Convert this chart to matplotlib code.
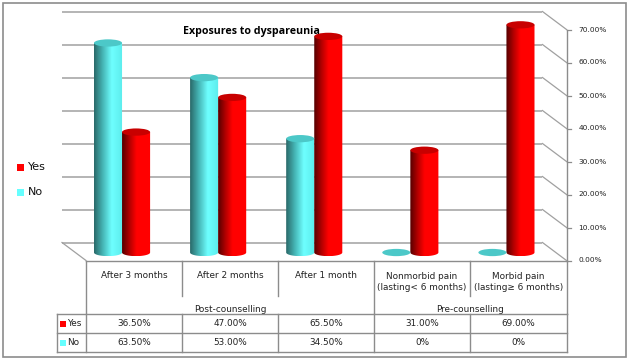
import numpy as np
import matplotlib
matplotlib.use('Agg')
import matplotlib.pyplot as plt
from matplotlib.colors import LinearSegmentedColormap
from matplotlib.patches import Ellipse, PathPatch, Rectangle
from matplotlib.path import Path

# data
categories = ['After 3 months', 'After 2 months', 'After 1 month',
              'Nonmorbid pain\n(lasting< 6 months)', 'Morbid pain\n(lasting≥ 6 months)']
groups = ['Post-counselling', 'Pre-counselling']
yes_values = [36.5, 47.0, 65.5, 31.0, 69.0]
no_values = [63.5, 53.0, 34.5, 0, 0]
yes_labels = ['36.50%', '47.00%', '65.50%', '31.00%', '69.00%']
no_labels = ['63.50%', '53.00%', '34.50%', '0%', '0%']
y_ticks = [0, 10, 20, 30, 40, 50, 60, 70]
y_ticklabels = ['0.00%', '10.00%', '20.00%', '30.00%', '40.00%', '50.00%', '60.00%', '70.00%']

W, H = 629, 360
GREY = '#8c8c8c'
FONT = 'DejaVu Sans'
plt.rcParams['font.family'] = FONT

fig = plt.figure(figsize=(W / 100, H / 100), dpi=100)

# overlay in pixels for frame, table and legend
bg = fig.add_axes([0, 0, 1, 1])
bg.set_xlim(0, W)
bg.set_ylim(H, 0)
bg.axis('off')

# plot area: front edge of the 3d box
ax = fig.add_axes([86 / W, 1 - 260.5 / H, 480.5 / W, 231 / H])
ax.set_xlim(0, 5)
ax.set_ylim(0, 70)
ax.axis('off')
ax.patch.set_alpha(0)

wall_dx, wall_dy = -0.25, 5.45
bar_dx, bar_dy = -0.125, 2.42
bar_w = 0.292
cap = 1.1

# back wall grid and side lines
for v, s in zip(y_ticks, y_ticklabels):
    ax.plot([wall_dx, 5 + wall_dx], [v + wall_dy, v + wall_dy], color='#a8a8a8', lw=1.2,
            clip_on=False, zorder=1, solid_capstyle='butt')
    ax.plot([5 + wall_dx, 5], [v + wall_dy, v], color='#a0a0a0', lw=0.9, clip_on=False, zorder=1)
    ax.plot([5, 5.05], [v, v], color=GREY, lw=0.9, clip_on=False, zorder=1)
    ax.text(5.125, v, s, fontsize=5.3, va='center', ha='left', clip_on=False, color='#222222')
ax.plot([wall_dx, 0], [wall_dy, 0], color='#a0a0a0', lw=0.9, clip_on=False, zorder=1)
ax.plot([5, 5], [0, 70], color=GREY, lw=1.0, clip_on=False, zorder=1)


def cylinder(xc, value, cmap, top_color):
    x0, x1 = xc - bar_w / 2, xc + bar_w / 2
    y0 = bar_dy
    y1 = value + bar_dy
    if value > 0:
        t = np.linspace(np.pi, 2 * np.pi, 40)
        xs = xc + np.cos(t) * bar_w / 2
        ys = y0 + np.sin(t) * cap
        verts = list(zip(xs, ys)) + [(x1, y1), (x0, y1), (x0, y0)]
        codes = [Path.MOVETO] + [Path.LINETO] * (len(verts) - 2) + [Path.CLOSEPOLY]
        im = ax.imshow(np.linspace(0, 1, 64)[None, :], cmap=cmap, aspect='auto',
                       extent=[x0, x1, y0 - cap, y1], zorder=3, interpolation='bilinear')
        im.set_clip_path(PathPatch(Path(verts, codes), transform=ax.transData))
        im.set_clip_box(fig.bbox)
    ax.add_patch(Ellipse((xc, y1), bar_w, 2 * cap, facecolor=top_color, edgecolor='none',
                         zorder=4, clip_on=False))


cyan_map = LinearSegmentedColormap.from_list('c', [(0, '#2a6a6a'), (0.3, '#45b5b5'),
                                                   (0.62, '#6effff'), (1, '#5cecec')])
red_map = LinearSegmentedColormap.from_list('r', [(0, '#560000'), (0.25, '#b00000'),
                                                  (0.5, '#ff0000'), (1, '#ff0000')])

for i in range(5):
    center = i + 0.5 + bar_dx
    cylinder(center - bar_w / 2, no_values[i], cyan_map, '#4cc8c8')
    cylinder(center + bar_w / 2, yes_values[i], red_map, '#c80000')
ax.set_xlim(0, 5)
ax.set_ylim(0, 70)

# title
fig.text(251 / W, 1 - 31.5 / H, 'Exposures to dyspareunia', ha='center', va='center',
         fontsize=7.7, fontweight='bold', family='Open Sans', zorder=6, color='black')

# legend on the left
for label, color, y in [('Yes', '#ff0000', 167), ('No', '#66ffff', 192)]:
    bg.add_patch(Rectangle((17, y - 3.5), 7, 7, facecolor=color, edgecolor='none'))
    bg.text(28, y, label, fontsize=8, va='center', ha='left', color='#111111')

# category axis lines
col_x = [86, 182, 278, 374, 470, 567]
row_y = [314, 333, 352]
bg.plot([86, 567], [261, 261], color=GREY, lw=1)
for x, bottom in zip(col_x, [314, 296, 296, 314, 296, 314]):
    bg.plot([x, x], [261, bottom], color=GREY, lw=1)
for i, name in enumerate(categories):
    yc = 275.5 if i < 3 else 282
    bg.text((col_x[i] + col_x[i + 1]) / 2, yc, name, fontsize=6.4, ha='center', va='center',
            linespacing=1.25, color='#222222')
bg.text(230, 309.5, groups[0], fontsize=6.4, ha='center', va='center', color='#222222', zorder=1)
bg.text(470, 309.5, groups[1], fontsize=6.4, ha='center', va='center', color='#222222', zorder=1)

# data table
bg.add_patch(Rectangle((57, 314), 510, 38, facecolor='white', edgecolor='none', zorder=2))
for y in row_y:
    bg.plot([57, 567], [y, y], color=GREY, lw=1, zorder=3)
for x in [57] + col_x:
    bg.plot([x, x], [314, 352], color=GREY, lw=1, zorder=3)
for row, (label, color, values) in enumerate([('Yes', '#ff0000', yes_labels), ('No', '#66ffff', no_labels)]):
    yc = (row_y[row] + row_y[row + 1]) / 2
    bg.add_patch(Rectangle((60, yc - 3), 6, 6, facecolor=color, edgecolor='none', zorder=3))
    bg.text(67, yc, label, fontsize=6.4, va='center', ha='left', color='#222222', zorder=4)
    for i, s in enumerate(values):
        bg.text((col_x[i] + col_x[i + 1]) / 2, yc, s, fontsize=6.4, ha='center', va='center',
                color='#222222', zorder=4)

# outer frame
bg.add_patch(Rectangle((2.5, 2.5), 623.5, 354.5, facecolor='none', edgecolor=GREY, lw=1.2, zorder=5))

fig.savefig('out.png', dpi=100)
